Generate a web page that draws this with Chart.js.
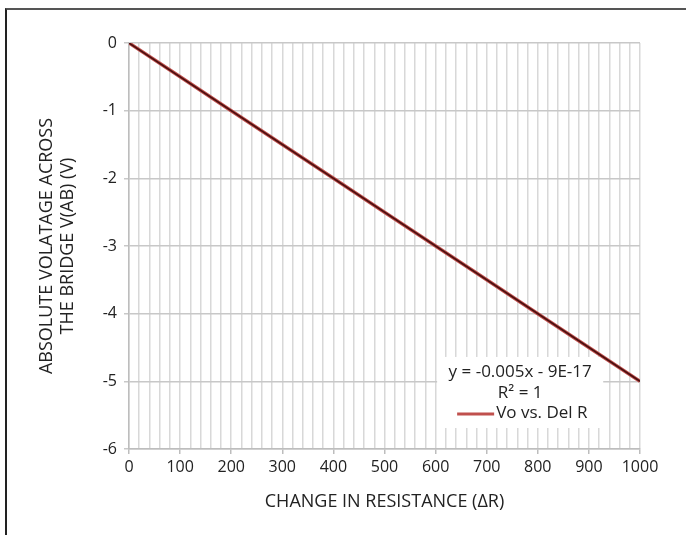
<!DOCTYPE html>
<html><head><meta charset="utf-8">
<script src="https://cdn.jsdelivr.net/npm/chart.js@4"></script>
<style>
html,body{margin:0;padding:0;background:#fff;}
#wrap{position:relative;width:686px;height:535px;}
#frame{position:absolute;left:5px;top:8px;width:681px;height:527px;border-top:2px solid #555;border-left:2px solid #222;box-sizing:border-box;pointer-events:none;}
canvas{position:absolute;left:0;top:0;}
</style></head>
<body><div id="wrap"><canvas id="c" width="686" height="535"></canvas><div id="frame"></div></div>
<script>
const deltaR = [0, 100, 200, 300, 400, 500, 600, 700, 800, 900, 1000];
const voltage = [0, -0.5, -1, -1.5, -2, -2.5, -3, -3.5, -4, -4.5, -5];
const trendX = [0, 1000];
const trendY = [0, -5];
const xTicks = [0, 100, 200, 300, 400, 500, 600, 700, 800, 900, 1000];
const yTicks = [0, -1, -2, -3, -4, -5, -6];
const seriesName = 'Vo vs. Del R';
const equation = 'y = -0.005x - 9E-17';
const rSquared = 'R² = 1';
const xTitle = 'CHANGE IN RESISTANCE (ΔR)';
const yTitle = ['ABSOLUTE VOLATAGE ACROSS', 'THE BRIDGE V(AB) (V)'];

const FONT = '"Open Sans", "Noto Sans", sans-serif';

const boxPlugin = {
  id: 'trendBox',
  beforeDatasetsDraw(chart) {
    const {ctx, scales:{x, y}} = chart;
    const left = x.getPixelForValue(603), right = x.getPixelForValue(928);
    const top = y.getPixelForValue(-4.64), bottom = y.getPixelForValue(-5.69);
    ctx.save();
    ctx.fillStyle = '#fff';
    ctx.fillRect(left, top, right - left, bottom - top);
    ctx.fillStyle = '#222';
    ctx.font = '17px ' + FONT;
    ctx.textAlign = 'center';
    ctx.textBaseline = 'middle';
    const cx = (left + right) / 2;
    ctx.fillText(equation, cx, top + 15);
    ctx.fillText(rSquared, cx, top + 36);
    ctx.strokeStyle = '#c0504d';
    ctx.lineWidth = 3;
    ctx.beginPath();
    ctx.moveTo(left + 20, top + 57);
    ctx.lineTo(left + 57, top + 57);
    ctx.stroke();
    ctx.textAlign = 'left';
    ctx.fillText(seriesName, left + 59, top + 56);
    ctx.restore();
  }
};

new Chart(document.getElementById('c'), {
  type: 'scatter',
  data: {
    datasets: [
      {
        label: seriesName,
        data: deltaR.map((v, i) => ({x: v, y: voltage[i]})),
        showLine: true,
        borderColor: '#c0504d',
        borderWidth: 3.5,
        pointRadius: 0,
        order: 2
      },
      {
        label: 'Linear',
        data: trendX.map((v, i) => ({x: v, y: trendY[i]})),
        showLine: true,
        borderColor: '#4a0f0f',
        borderWidth: 1.6,
        pointRadius: 0,
        order: 1
      }
    ]
  },
  options: {
    responsive: false,
    animation: false,
    layout: {padding: {left: 37, right: 46, top: 43, bottom: 16}},
    plugins: {legend: {display: false}, tooltip: {enabled: false}},
    scales: {
      x: {
        type: 'linear', min: 0, max: 1000,
        afterFit: s => { s.height = 70; },
        afterBuildTicks: s => {
          const t = [];
          for (let i = 0; i <= 50; i++) t.push({value: i * 20});
          s.ticks = t;
        },
        ticks: {
          autoSkip: false, maxRotation: 0, padding: 4,
          color: '#222', font: {size: 16, family: FONT},
          callback: v => xTicks.includes(v) ? String(v) : ''
        },
        grid: {
          color: '#d8d8d8', lineWidth: 1.5, tickLength: 5,
          tickColor: c => (c.tick && xTicks.includes(c.tick.value)) ? '#bdbdbd' : 'rgba(0,0,0,0)',
          tickWidth: 1.5
        },
        border: {color: '#bdbdbd', width: 1.5},
        title: {display: true, text: xTitle, color: '#222', font: {size: 18, family: FONT}, padding: {top: 4, bottom: 6}}
      },
      y: {
        type: 'linear', min: -6, max: 0,
        afterFit: s => { s.width = 92; },
        afterBuildTicks: s => { s.ticks = yTicks.map(v => ({value: v})); },
        ticks: {color: '#222', font: {size: 16, family: FONT}, padding: 7},
        grid: {color: '#c8c8c8', lineWidth: 1.5, tickLength: 5},
        border: {color: '#bdbdbd', width: 1.5},
        title: {display: true, text: yTitle, color: '#222', font: {size: 18, family: FONT, lineHeight: 1.15}, padding: {top: 0, bottom: 0}}
      }
    }
  },
  plugins: [boxPlugin]
});
</script>
</body></html>
